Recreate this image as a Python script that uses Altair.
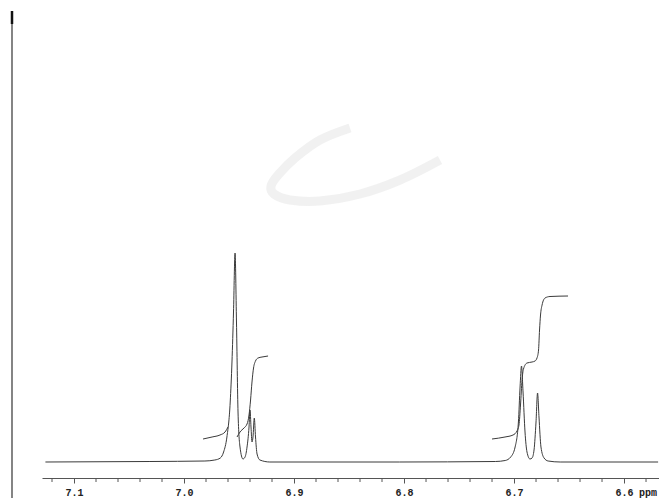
import altair as alt
import pandas as pd

# ---- spectrum trace (ppm, intensity above baseline) ----
spec_ppm = [7.126, 7.031, 6.981, 6.972, 6.967, 6.964, 6.961, 6.958, 6.9564, 6.9550,
            6.9536, 6.9523, 6.9509, 6.9491, 6.9464, 6.9445, 6.9427, 6.9409, 6.9400,
            6.9391, 6.9382, 6.9373, 6.9361, 6.9350, 6.9336, 6.931, 6.922, 6.804,
            6.717, 6.708, 6.703, 6.699, 6.696, 6.6945, 6.6932, 6.6918, 6.6900,
            6.6882, 6.6855, 6.6836, 6.6818, 6.6800, 6.6786, 6.6773, 6.6755, 6.6727,
            6.669, 6.658, 6.569]
spec_int = [0, 0.5, 1, 2, 4, 10, 25, 60, 100, 150,
            209, 140, 50, 15, 3, 5, 15, 35, 52,
            35, 20, 25, 44, 25, 8, 2, 0, 0,
            0.5, 1.5, 5, 15, 40, 75, 96, 70, 30,
            10, 3, 4, 12, 40, 69, 45, 15, 4,
            1, 0, 0]

# ---- integral curves ----
int1_ppm = [6.9827, 6.9745, 6.9673, 6.9627, 6.9600]
int1_val = [23, 25, 27, 30, 35]
int2_ppm = [6.9518, 6.9491, 6.9455, 6.9427, 6.9409, 6.9395, 6.9382, 6.9368,
            6.9350, 6.9327, 6.9291, 6.9236]
int2_val = [25, 30, 34, 38, 47, 62, 80, 94, 101, 104, 105, 106]
int3_ppm = [6.7200, 6.7082, 6.7009, 6.6973, 6.6955, 6.6941, 6.6927, 6.6914,
            6.6882, 6.6836, 6.6809, 6.6791, 6.6777, 6.6768, 6.6759, 6.6745,
            6.6718, 6.6673, 6.6509]
int3_val = [23, 25, 27, 31, 37, 57, 82, 93, 99, 100, 101, 104, 112, 132, 147,
            157, 164, 165.5, 166]

# ---- faint scanner smudge ----
smudge_ppm = [6.8491, 6.8764, 6.8991, 6.9145, 6.9209, 6.9182, 6.9036, 6.8764,
              6.8400, 6.8036, 6.7673]
smudge_val = [334, 322, 304, 287, 276, 268, 262, 261, 268, 282, 302]

# ---- axis ticks ----
major_ticks = [7.1, 7.0, 6.9, 6.8, 6.7, 6.6]
minor_ticks = [7.12, 7.08, 7.06, 7.04, 7.02, 6.98, 6.96, 6.94, 6.92, 6.88, 6.86,
               6.84, 6.82, 6.78, 6.76, 6.74, 6.72, 6.68, 6.66, 6.64, 6.62, 6.58]

spec = pd.DataFrame({"ppm": spec_ppm, "val": spec_int})
ints = pd.DataFrame({
    "ppm": int1_ppm + int2_ppm + int3_ppm,
    "val": int1_val + int2_val + int3_val,
    "seg": ["a"] * len(int1_ppm) + ["b"] * len(int2_ppm) + ["c"] * len(int3_ppm),
})
smudge = pd.DataFrame({"ppm": smudge_ppm, "val": smudge_val,
                       "idx": list(range(len(smudge_ppm)))})
minor = pd.DataFrame({"ppm": minor_ticks})

xscale = alt.Scale(domain=[7.1291, 6.5682], nice=False, zero=False)
yscale = alt.Scale(domain=[-16, 454], nice=False, zero=False)

xaxis = alt.Axis(values=major_ticks, format=".1f", title=None, grid=False,
                 labelFont="Liberation Mono", labelFontWeight="bold",
                 labelFontSize=10, labelColor="#222", labelPadding=4,
                 tickSize=5, tickColor="#555", domainColor="#555",
                 labelFlush=False)

smudge_layer = alt.Chart(smudge).mark_line(
    interpolate="cardinal", color="#ececec", strokeWidth=9, opacity=0.75
).encode(
    x=alt.X("ppm:Q", scale=xscale, axis=xaxis),
    y=alt.Y("val:Q", scale=yscale, axis=None),
    order="idx:Q",
)

spec_layer = alt.Chart(spec).mark_line(
    interpolate="monotone", color="#3a3a3a", strokeWidth=1
).encode(
    x=alt.X("ppm:Q", scale=xscale, axis=xaxis),
    y=alt.Y("val:Q", scale=yscale, axis=None),
)

int_layer = alt.Chart(ints).mark_line(
    interpolate="monotone", color="#3a3a3a", strokeWidth=1
).encode(
    x=alt.X("ppm:Q", scale=xscale),
    y=alt.Y("val:Q", scale=yscale),
    detail="seg:N",
)

minor_layer = alt.Chart(minor).mark_rule(color="#555", strokeWidth=1).encode(
    x=alt.X("ppm:Q", scale=xscale),
    y=alt.value(470),
    y2=alt.value(474),
)

ppm_text = alt.Chart(pd.DataFrame({"t": ["ppm"]})).mark_text(
    font="Liberation Mono", fontWeight="bold", fontSize=10, color="#222"
).encode(text="t:N", x=alt.value(606), y=alt.value(485))

edge_line = alt.Chart(pd.DataFrame({"a": [0]})).mark_rule(
    color="#333", strokeWidth=1.2
).encode(x=alt.value(-30), y=alt.value(3), y2=alt.value(490))

edge_wedge = alt.Chart(pd.DataFrame({"a": [0]})).mark_rule(
    color="#111", strokeWidth=2.5
).encode(x=alt.value(-30), y=alt.value(3), y2=alt.value(16))

chart = alt.layer(
    smudge_layer, spec_layer, int_layer, minor_layer, ppm_text, edge_line, edge_wedge
).properties(
    width=617, height=470,
    padding={"left": 34, "top": 0, "right": 0, "bottom": 20},
    autosize=alt.AutoSizeParams(type="none"),
    background="white",
).configure_view(stroke=None)

chart.save("out.html", embed_options={"renderer": "svg", "actions": False})
